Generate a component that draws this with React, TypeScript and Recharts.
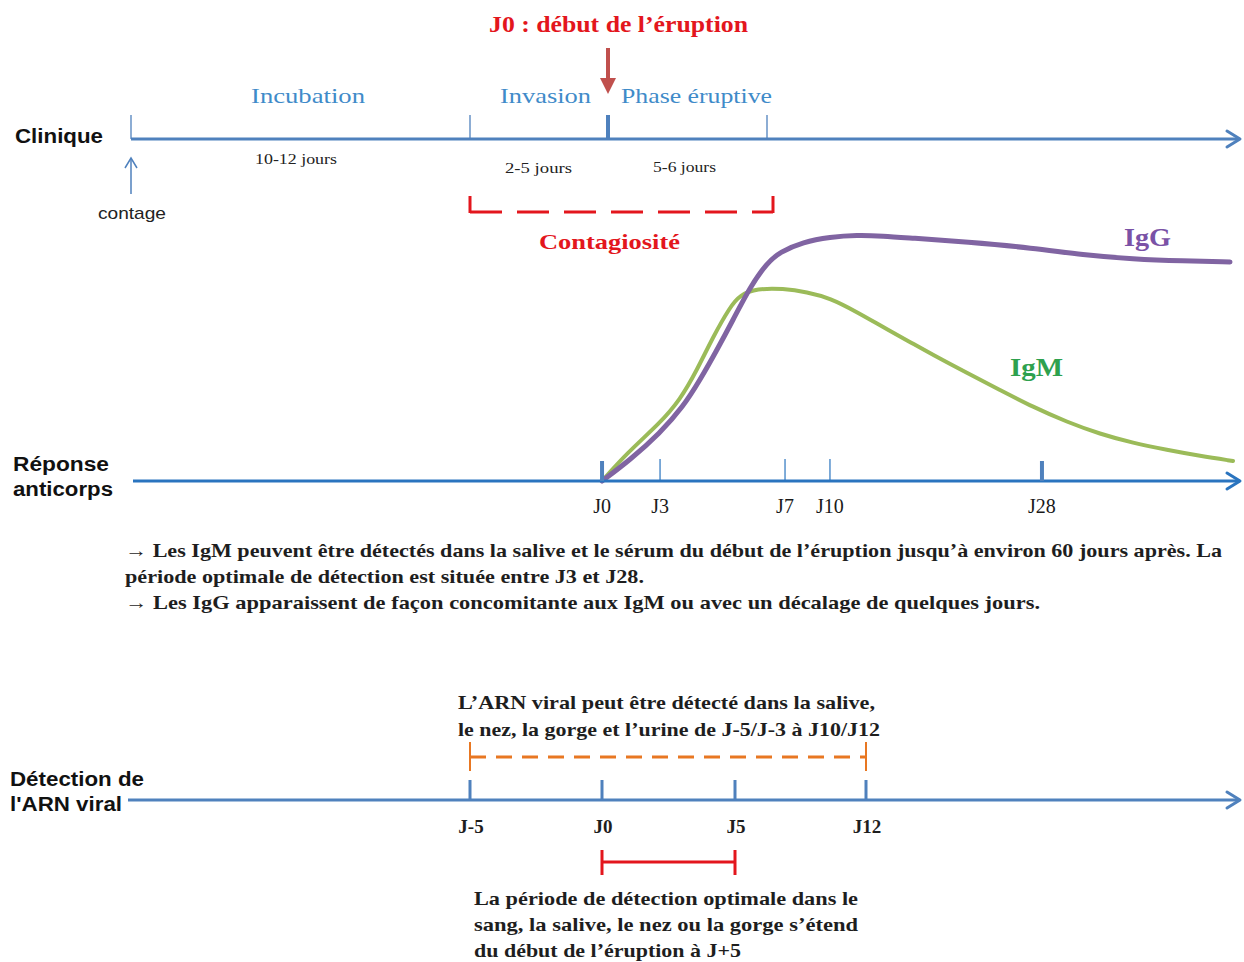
import { LineChart, Line, XAxis, YAxis } from "recharts";

const SERIF = '"Liberation Serif", "Times New Roman", serif';
const SANS = '"Liberation Sans", Arial, sans-serif';

const BLUE = "#4f81bd";
const AB_BLUE = "#2a74bf";
const RED = "#e3161d";
const PURPLE = "#8064a2";
const GREEN = "#9bbb59";

// antibody response: position along the axis (0-100) and relative level (0-100)
const igg = [
  { pos: 42.37, level: 0 },
  { pos: 44.9, level: 8.4 },
  { pos: 47.61, level: 19.2 },
  { pos: 49.68, level: 29.6 },
  { pos: 51.22, level: 40.4 },
  { pos: 52.75, level: 52.4 },
  { pos: 54.2, level: 64.4 },
  { pos: 55.74, level: 77.6 },
  { pos: 57.27, level: 87.2 },
  { pos: 58.45, level: 91.6 },
  { pos: 60.52, level: 95.6 },
  { pos: 62.96, level: 97.6 },
  { pos: 65.4, level: 98.4 },
  { pos: 67.75, level: 98.0 },
  { pos: 70.19, level: 97.2 },
  { pos: 75.34, level: 95.6 },
  { pos: 81.3, level: 93.2 },
  { pos: 85.82, level: 90.4 },
  { pos: 90.33, level: 88.8 },
  { pos: 94.85, level: 88.0 },
  { pos: 99.1, level: 87.6 },
];

const igm = [
  { pos: 42.37, level: 0 },
  { pos: 44.63, level: 11.2 },
  { pos: 47.61, level: 23.2 },
  { pos: 49.41, level: 32.4 },
  { pos: 50.95, level: 44.4 },
  { pos: 52.39, level: 57.6 },
  { pos: 53.93, level: 69.6 },
  { pos: 54.83, level: 74.4 },
  { pos: 56.37, level: 77.0 },
  { pos: 58.72, level: 77.0 },
  { pos: 60.89, level: 75.6 },
  { pos: 62.96, level: 73.2 },
  { pos: 65.4, level: 67.6 },
  { pos: 67.75, level: 61.6 },
  { pos: 70.19, level: 55.6 },
  { pos: 72.27, level: 50.4 },
  { pos: 75.34, level: 43.2 },
  { pos: 78.32, level: 36.4 },
  { pos: 81.3, level: 29.6 },
  { pos: 84.37, level: 23.6 },
  { pos: 87.35, level: 18.8 },
  { pos: 90.33, level: 15.2 },
  { pos: 93.41, level: 12.4 },
  { pos: 96.39, level: 10.0 },
  { pos: 99.37, level: 8.0 },
];

const abTicks = [
  { pos: 42.37, label: "J0", major: true },
  { pos: 47.61, label: "J3", major: false },
  { pos: 58.9, label: "J7", major: false },
  { pos: 62.96, label: "J10", major: false },
  { pos: 82.11, label: "J28", major: true },
];

// clinical timeline
const clinicalTicks = [
  { x: 131, major: false },
  { x: 470, major: false },
  { x: 608, major: true },
  { x: 767, major: false },
];
const phases = [
  { label: "Incubation", x: 251, w: 114 },
  { label: "Invasion", x: 500, w: 91 },
  { label: "Phase éruptive", x: 621, w: 151 },
];
const durations = [
  { label: "10-12 jours", x: 255, y: 164, w: 82 },
  { label: "2-5 jours", x: 505, y: 173, w: 67 },
  { label: "5-6 jours", x: 653, y: 172, w: 63 },
];

// viral RNA timeline
const arnTicks = [
  { x: 470, label: "J-5" },
  { x: 602, label: "J0" },
  { x: 735, label: "J5" },
  { x: 866, label: "J12" },
];

const noteLines = [
  { text: "→ Les IgM peuvent être détectés dans la salive et le sérum du début de l’éruption jusqu’à environ 60 jours après. La", w: 1097 },
  { text: "période optimale de détection est située entre J3 et J28.", w: 519 },
  { text: "→ Les IgG apparaissent de façon concomitante aux IgM ou avec un décalage de quelques jours.", w: 915 },
];
const arnLines = [
  { text: "L’ARN viral peut être détecté dans la salive,", w: 417 },
  { text: "le nez, la gorge et l’urine de J-5/J-3 à J10/J12", w: 422 },
];
const optimalLines = [
  { text: "La période de détection optimale dans le", w: 384 },
  { text: "sang, la salive, le nez ou la gorge s’étend", w: 384 },
  { text: "du début de l’éruption à J+5", w: 267 },
];

type TProps = {
  x: number;
  y: number;
  w?: number;
  size: number;
  bold?: boolean;
  color?: string;
  font?: string;
  anchor?: "start" | "middle" | "end";
  children: string;
};

const T = ({ x, y, w, size, bold, color = "#1a1a1a", font = SERIF, anchor = "start", children }: TProps) => (
  <text
    x={x}
    y={y}
    fontSize={size}
    fontWeight={bold ? 700 : 400}
    fill={color}
    fontFamily={font}
    textAnchor={anchor}
    textLength={w}
    lengthAdjust={w ? "spacingAndGlyphs" : undefined}
  >
    {children}
  </text>
);

const ArrowHead = ({ x, y, color }: { x: number; y: number; color: string }) => (
  <polyline
    points={`${x - 13},${y - 8} ${x},${y} ${x - 13},${y + 8}`}
    fill="none"
    stroke={color}
    strokeWidth={3}
    strokeLinejoin="round"
    strokeLinecap="round"
  />
);

const AbTick = (props: any) => {
  const { x, y, payload } = props;
  const t = abTicks.find((d) => Math.abs(d.pos - payload.value) < 0.01);
  if (!t) return null;
  return (
    <g>
      <line
        x1={x}
        x2={x}
        y1={y - (t.major ? 20 : 22)}
        y2={y}
        stroke={t.major ? BLUE : AB_BLUE}
        strokeWidth={t.major ? 4 : 1.2}
      />
      <text x={x} y={y + 32} textAnchor="middle" fontFamily={SERIF} fontSize={20} fill="#1a1a1a">
        {t.label}
      </text>
    </g>
  );
};

const App = () => {
  return (
    <div style={{ position: "absolute", left: 0, top: 0, width: 1244, height: 962, background: "#fff" }}>
      <div style={{ position: "absolute", left: 0, top: 0 }}>
        <LineChart width={1244} height={520} margin={{ top: 231, right: 4, left: 133, bottom: 0 }}>
          <XAxis
            type="number"
            dataKey="pos"
            domain={[0, 100]}
            ticks={abTicks.map((t) => t.pos)}
            interval={0}
            height={39}
            tickSize={0}
            tickMargin={0}
            axisLine={{ stroke: AB_BLUE, strokeWidth: 3 }}
            tickLine={false}
            tick={(p: any) => <AbTick {...p} />}
            allowDataOverflow
          />
          <YAxis type="number" domain={[0, 100]} hide />
          <Line
            data={igm}
            dataKey="level"
            type="basis"
            stroke={GREEN}
            strokeWidth={4}
            strokeLinecap="round"
            dot={false}
            isAnimationActive={false}
          />
          <Line
            data={igg}
            dataKey="level"
            type="basis"
            stroke={PURPLE}
            strokeWidth={5}
            strokeLinecap="round"
            dot={false}
            isAnimationActive={false}
          />
        </LineChart>
      </div>

      <svg
        width={1244}
        height={962}
        style={{ position: "absolute", left: 0, top: 0, pointerEvents: "none" }}
      >
        {/* Clinique */}
        <T x={489} y={32} w={259} size={23} bold color={RED}>J0 : début de l’éruption</T>
        <line x1={608} x2={608} y1={48} y2={80} stroke="#c0504d" strokeWidth={4} />
        <polygon points="600,78 616,78 608,94" fill="#c0504d" />
        {phases.map((p) => (
          <T key={p.label} x={p.x} y={103} w={p.w} size={22} color="#3f8bc9">
            {p.label}
          </T>
        ))}
        <T x={15} y={143} w={88} size={21} bold font={SANS} color="#111">Clinique</T>
        <line x1={131} x2={1238} y1={139} y2={139} stroke={BLUE} strokeWidth={3} />
        <ArrowHead x={1240} y={139} color={BLUE} />
        {clinicalTicks.map((t) => (
          <line
            key={t.x}
            x1={t.x}
            x2={t.x}
            y1={115}
            y2={139}
            stroke={BLUE}
            strokeWidth={t.major ? 4 : 1.3}
          />
        ))}
        {durations.map((d) => (
          <T key={d.label} x={d.x} y={d.y} w={d.w} size={14} color="#222">
            {d.label}
          </T>
        ))}
        <line x1={131} x2={131} y1={194} y2={158} stroke={BLUE} strokeWidth={1.5} />
        <polyline points="125,168 131,158 137,168" fill="none" stroke={BLUE} strokeWidth={1.5} />
        <T x={98} y={219} w={68} size={17} font={SANS} color="#222">contage</T>
        <line x1={470} x2={470} y1={196} y2={213} stroke={RED} strokeWidth={3} />
        <line x1={773} x2={773} y1={196} y2={213} stroke={RED} strokeWidth={3} />
        <line x1={470} x2={773} y1={212} y2={212} stroke={RED} strokeWidth={3} strokeDasharray="32 15" />
        <T x={539} y={249} w={141} size={22} bold color={RED}>Contagiosité</T>

        {/* Réponse anticorps */}
        <T x={1124} y={246} w={47} size={26} bold color="#7a52a6">IgG</T>
        <T x={1010} y={376} w={53} size={26} bold color="#2ea14e">IgM</T>
        <T x={13} y={471} w={96} size={20} bold font={SANS} color="#111">Réponse</T>
        <T x={13} y={496} w={100} size={20} bold font={SANS} color="#111">anticorps</T>
        <ArrowHead x={1240} y={481} color={AB_BLUE} />
        {noteLines.map((l, i) => (
          <T key={i} x={125} y={557 + i * 26} w={l.w} size={19} bold color="#1e1e1e">
            {l.text}
          </T>
        ))}

        {/* Détection de l'ARN viral */}
        {arnLines.map((l, i) => (
          <T key={i} x={458} y={709 + i * 27} w={l.w} size={19} bold color="#1e1e1e">
            {l.text}
          </T>
        ))}
        <line x1={470} x2={866} y1={757} y2={757} stroke="#e87722" strokeWidth={3} strokeDasharray="16 10" />
        <line x1={470} x2={470} y1={742} y2={771} stroke="#e87722" strokeWidth={2} />
        <line x1={866} x2={866} y1={742} y2={771} stroke="#e87722" strokeWidth={2} />
        <T x={10} y={786} w={134} size={20} bold font={SANS} color="#111">Détection de</T>
        <T x={10} y={811} w={112} size={20} bold font={SANS} color="#111">l'ARN viral</T>
        <line x1={128} x2={1238} y1={800} y2={800} stroke={BLUE} strokeWidth={3} />
        <ArrowHead x={1240} y={800} color={BLUE} />
        {arnTicks.map((t) => (
          <g key={t.label}>
            <line x1={t.x} x2={t.x} y1={780} y2={800} stroke={BLUE} strokeWidth={3} />
            <T x={t.x + 1} y={833} size={19} bold anchor="middle" color="#1e1e1e">
              {t.label}
            </T>
          </g>
        ))}
        <line x1={602} x2={602} y1={850} y2={875} stroke={RED} strokeWidth={3} />
        <line x1={735} x2={735} y1={850} y2={875} stroke={RED} strokeWidth={3} />
        <line x1={602} x2={735} y1={862} y2={862} stroke={RED} strokeWidth={3} />
        {optimalLines.map((l, i) => (
          <T key={i} x={474} y={905 + i * 26} w={l.w} size={19} bold color="#1e1e1e">
            {l.text}
          </T>
        ))}
      </svg>
    </div>
  );
};

export default App;
